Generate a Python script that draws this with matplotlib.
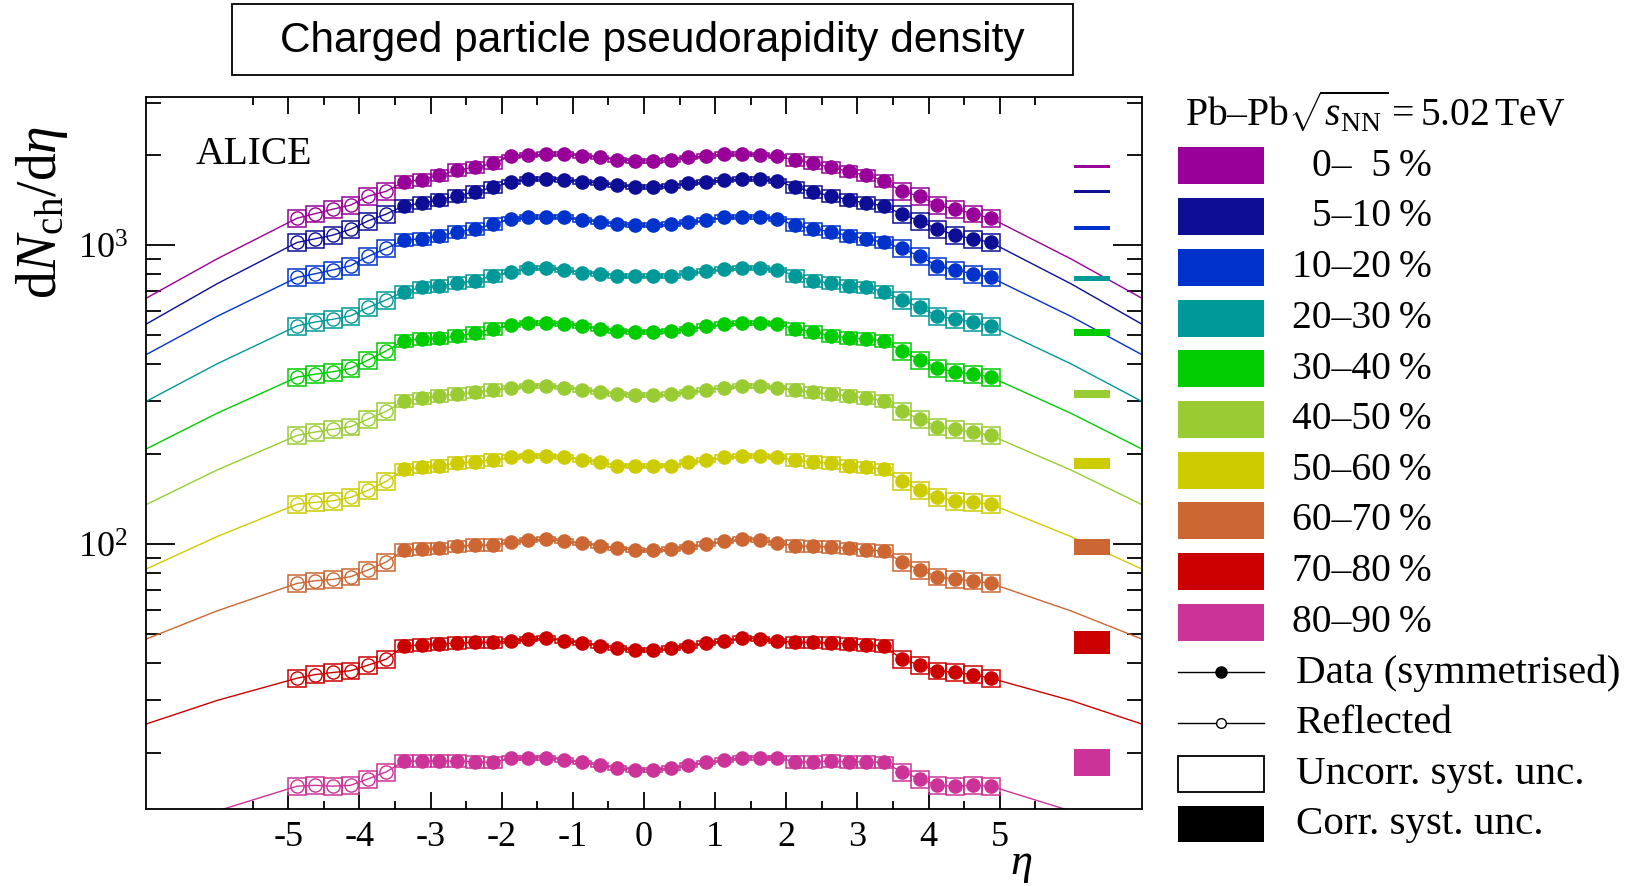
"""Charged particle pseudorapidity density, Pb-Pb 5.02 TeV (ALICE style)."""
import matplotlib
matplotlib.use("Agg")
import matplotlib.pyplot as plt
import matplotlib.patches as mpatches
from matplotlib.ticker import FixedLocator, LogLocator, NullFormatter
import numpy as np

plt.rcParams["font.family"] = ["Liberation Serif", "DejaVu Serif"]
plt.rcParams["mathtext.fontset"] = "custom"
plt.rcParams["mathtext.rm"] = "Liberation Serif"
plt.rcParams["mathtext.it"] = "Liberation Serif:italic"
plt.rcParams["mathtext.bf"] = "Liberation Serif:bold"
plt.rcParams["axes.unicode_minus"] = False

# ---- data -----------------------------------------------------------------
eta = [-3.375, -3.125, -2.875, -2.625, -2.375, -2.125, -1.875, -1.625, -1.375,
       -1.125, -0.875, -0.625, -0.375, -0.125, 0.125, 0.375, 0.625, 0.875,
       1.125, 1.375, 1.625, 1.875, 2.125, 2.375, 2.625, 2.875, 3.125, 3.375,
       3.625, 3.875, 4.125, 4.375, 4.625, 4.875]

centralities = ["0\u2013  5\u2009%", "5\u201310\u2009%", "10\u201320\u2009%",
                "20\u201330\u2009%", "30\u201340\u2009%", "40\u201350\u2009%",
                "50\u201360\u2009%", "60\u201370\u2009%", "70\u201380\u2009%",
                "80\u201390\u2009%"]

dndeta_0_5 = [1628, 1654, 1710, 1785, 1819, 1880, 1980, 2000, 2015, 2015, 1990,
              1965, 1929, 1914, 1914, 1929, 1965, 1990, 2015, 2015, 2010, 1980,
              1929, 1880, 1819, 1764, 1710, 1640, 1514, 1459, 1361, 1319, 1274, 1231]
dndeta_5_10 = [1353, 1382, 1417, 1462, 1508, 1560, 1628, 1662, 1662, 1654, 1628,
               1612, 1587, 1565, 1565, 1580, 1612, 1628, 1654, 1662, 1662, 1640,
               1560, 1505, 1462, 1417, 1382, 1353, 1270, 1206, 1130, 1080, 1050, 1021]
dndeta_10_20 = [1040, 1050, 1076, 1108, 1135, 1175, 1222, 1238, 1243, 1238, 1212,
                1196, 1175, 1166, 1166, 1175, 1192, 1212, 1238, 1243, 1243, 1222,
                1166, 1135, 1108, 1076, 1050, 1021, 975, 918, 853, 826, 802, 780]
dndeta_20_30 = [698, 722, 731, 746, 760, 790, 814, 836, 836, 827, 810, 800, 790,
                786, 786, 790, 805, 820, 830, 836, 840, 827, 790, 760, 746, 731,
                722, 698, 656, 619, 580, 565, 553, 537]
dndeta_30_40 = [479, 485, 488, 497, 508, 524, 540, 548, 548, 544, 535, 524, 517,
                513, 513, 517, 524, 535, 544, 548, 548, 544, 524, 513, 497, 490,
                485, 479, 443, 413, 387, 377, 370, 362]
dndeta_40_50 = [301.5, 307, 313, 317.5, 321.7, 328, 334, 338.4, 338.4, 334, 328,
                321.7, 317.5, 315, 315, 317.5, 321.7, 328, 334, 338.4, 338.4, 334,
                328, 321.7, 317.5, 313, 308, 301.5, 278, 262, 247, 242, 237, 231]
dndeta_50_60 = [178, 180.5, 183, 186.6, 188.5, 191.4, 195, 197.3, 197.3, 195,
                191.4, 187.6, 183.2, 182, 182, 183.2, 187.6, 191.4, 195, 197.3,
                197.3, 195, 191.4, 188.5, 186.6, 183, 180.5, 178, 162, 151.5,
                143.3, 139.6, 137.9, 136]
dndeta_60_70 = [95.5, 96.2, 96.7, 98.2, 99.2, 99.2, 101.8, 103.1, 103.9, 102.1,
                100.5, 98.7, 96.7, 95.5, 95.2, 96.2, 97.9, 100.0, 102.1, 103.9,
                103.1, 100.8, 98.7, 98.2, 97.9, 96.7, 95.7, 94.8, 87.1, 82.0,
                77.8, 76.2, 75.4, 73.9]
dndeta_70_80 = [45.7, 46.0, 46.3, 46.7, 46.9, 46.9, 47.5, 48.1, 48.5, 47.5, 46.7,
                45.7, 44.8, 44.2, 44.2, 44.8, 45.7, 46.7, 47.5, 48.5, 48.1, 47.5,
                46.9, 46.9, 46.7, 46.3, 46.0, 45.7, 41.2, 39.4, 37.7, 37.2, 36.6, 35.6]
dndeta_80_90 = [18.8, 18.8, 18.8, 18.8, 18.7, 18.6, 19.3, 19.3, 19.3, 19.0, 18.6,
                18.2, 17.8, 17.6, 17.6, 17.8, 18.2, 18.6, 19.0, 19.3, 19.3, 19.3,
                18.7, 18.7, 18.8, 18.7, 18.7, 18.6, 17.3, 16.4, 15.6, 15.5, 15.6, 15.5]

# uncorrelated syst. unc. (relative), per eta bin
uncorr_rel = [0.045] * 6 + [0.015] * 16 + [0.045] * 6 + [0.065] * 6

# fit curve beyond the data, at |eta| = 6, 7
tail_eta = [6.0, 7.0]
tail_vals = [[900, 664], [743, 544], [578, 430], [401, 300], [274, 208],
             [177, 135.5], [106, 82.5], [59.8, 48.1], [30.0, 25.0], [12.8, 10.5]]

# correlated syst. unc. bars on the right
corr_center = [1833, 1516, 1141, 774.5, 508.6, 318.4, 186.1, 98.0, 47.0, 18.76]
corr_rel = [0.012, 0.012, 0.012, 0.017, 0.027, 0.033, 0.045, 0.060, 0.087, 0.104]

series = [dndeta_0_5, dndeta_5_10, dndeta_10_20, dndeta_20_30, dndeta_30_40,
          dndeta_40_50, dndeta_50_60, dndeta_60_70, dndeta_70_80, dndeta_80_90]
colors = ["#990099", "#0d0d96", "#0033cc", "#009999", "#00cc00",
          "#99cc33", "#cccc00", "#cc6633", "#cc0000", "#cc3399"]

xticks = [-5, -4, -3, -2, -1, 0, 1, 2, 3, 4, 5]
xtick_labels = ["-5", "-4", "-3", "-2", "-1", "0", "1", "2", "3", "4", "5"]

# ---- figure ---------------------------------------------------------------
W, H = 1637, 887
fig = plt.figure(figsize=(W / 100, H / 100), dpi=100)

# overlay in pixel coordinates for title box and legend
ov = fig.add_axes([0, 0, 1, 1])
ov.set_xlim(0, W)
ov.set_ylim(H, 0)
ov.axis("off")

ax = fig.add_axes([146 / W, (H - 810) / H, (1142 - 146) / W, (810 - 98) / H])
ax.set_yscale("log")
ax.set_xlim(-7, 7)
ax.set_ylim(13, 3130)

eta_a = np.array(eta)
fwd = eta_a > 3.5
refl_eta = -eta_a[fwd]
unc = np.array(uncorr_rel)

for vals, tails, col, cc, ce in zip(series, tail_vals, colors, corr_center, corr_rel):
    v = np.array(vals)
    refl_v = v[fwd]
    # fit-like curve through everything
    x_line = np.concatenate([[-t for t in tail_eta[::-1]], refl_eta[::-1], eta_a, tail_eta])
    y_line = np.concatenate([tails[::-1], refl_v[::-1], v, tails])
    ax.plot(x_line, y_line, color=col, lw=1.0, zorder=2)
    # uncorrelated boxes
    xb = np.concatenate([eta_a, refl_eta])
    vb = np.concatenate([v, refl_v])
    eb = np.concatenate([unc, unc[fwd]])
    ax.bar(xb, 2 * vb * eb, bottom=vb * (1 - eb), width=0.25, fill=False,
           edgecolor=col, linewidth=1.1, zorder=3)
    ax.plot(eta_a, v, "o", ms=9.5, color=col, mec=col, zorder=4)
    ax.plot(refl_eta, refl_v, "o", ms=9.5, mfc="none", mec=col, mew=1.0, zorder=4)
    # correlated syst. bar
    ax.bar([6.3], [2 * cc * ce], bottom=[cc * (1 - ce)], width=0.5, color=col,
           linewidth=0, zorder=3)

ax.set_xticks(xticks, labels=xtick_labels)
ax.xaxis.set_minor_locator(FixedLocator(np.arange(-5.5, 5.6, 1.0)))
ax.yaxis.set_major_locator(FixedLocator([100, 1000]))
ax.yaxis.set_minor_locator(LogLocator(base=10, subs=np.arange(2, 10)))
ax.yaxis.set_minor_formatter(NullFormatter())
ax.tick_params(which="both", direction="in", top=True, right=True, width=1.3,
               labelsize=26)
ax.tick_params(axis="x", which="major", length=12, pad=8)
ax.tick_params(axis="x", which="minor", length=6)
ax.tick_params(axis="y", which="major", length=21, pad=13)
ax.tick_params(axis="y", which="minor", length=11)
for s in ax.spines.values():
    s.set_linewidth(1.3)

ax.text(-6.3, 2030, "ALICE", fontsize=28.5, ha="left", va="center")

# axis labels
ov.text(42, 212, r"$\mathrm{d}N_{\mathrm{ch}}/\mathrm{d}\eta$", fontsize=40,
        rotation=90, ha="center", va="center")
ov.text(1021, 865, r"$\eta$", fontsize=32, ha="center", va="center")

# title box
ov.add_patch(mpatches.Rectangle((232, 5), 841, 71, fill=False, edgecolor="black",
                                linewidth=1.3))
ov.text(652, 41, "Charged particle pseudorapidity density", fontsize=30.5,
        family="Liberation Sans", ha="center", va="center")

# legend
ov.text(1185, 113, "Pb\u2013Pb" + r"$\sqrt{s_{\mathrm{NN}}}=5.02\,$TeV",
        fontsize=28.5, ha="left", va="center")
row_y = [166, 217, 268, 319, 369.5, 420, 471, 521, 572, 623]
for y, col, lab in zip(row_y, colors, centralities):
    ov.add_patch(mpatches.Rectangle((1178, y - 18.5), 86, 37, facecolor=col,
                                    edgecolor="none"))
    ov.text(1432, y, lab, fontsize=28.5, ha="right", va="center")

ov.plot([1178, 1264], [673, 673], color="black", lw=1.0)
ov.plot([1221], [673], "o", ms=8, color="black")
ov.text(1296, 673, "Data (symmetrised)", fontsize=29.5, ha="left", va="center")
ov.plot([1178, 1264], [723.5, 723.5], color="black", lw=1.0)
ov.plot([1221], [723.5], "o", ms=7, mfc="white", mec="black", mew=1.0)
ov.text(1296, 723.5, "Reflected", fontsize=29.5, ha="left", va="center")
ov.add_patch(mpatches.Rectangle((1178, 757), 86, 36, facecolor="white",
                                edgecolor="black", linewidth=1.3))
ov.text(1296, 774.5, "Uncorr. syst. unc.", fontsize=29.5, ha="left", va="center")
ov.add_patch(mpatches.Rectangle((1178, 807), 86, 36, facecolor="black",
                                edgecolor="none"))
ov.text(1296, 825, "Corr. syst. unc.", fontsize=29.5, ha="left", va="center")

fig.savefig("out.png", dpi=100)
